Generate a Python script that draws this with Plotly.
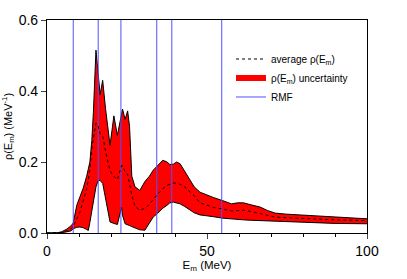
import plotly.graph_objects as go

# missing energy grid (MeV)
energy = [0, 3, 4.5, 6, 7.5, 8.2, 9.3, 10.3, 11.3, 12.4, 12.9, 13.4, 14, 14.5, 15.3, 16, 16.6, 17.4,
          18.3, 19.7, 20.9, 22, 23.3, 23.6, 24.4, 25.2, 25.8, 26.5, 27.5, 29, 30.6, 32, 33.2, 34.5,
          36.2, 37.5, 38.4, 39.5, 40.5, 41.6, 43, 44.7, 46, 47.8, 49.9, 52, 54.6, 57.7, 59.5, 61.4,
          63.5, 66.6, 69, 71.3, 75, 82, 90, 100]

rho_upper = [0, 0, 0.003, 0.01, 0.02, 0.028, 0.078, 0.1, 0.126, 0.16, 0.18, 0.2, 0.26, 0.34, 0.515,
             0.45, 0.39, 0.43, 0.35, 0.247, 0.33, 0.275, 0.34, 0.349, 0.32, 0.344, 0.30, 0.16, 0.13,
             0.12, 0.145, 0.16, 0.177, 0.19, 0.205, 0.2, 0.193, 0.194, 0.2, 0.195, 0.175, 0.148, 0.13,
             0.115, 0.107, 0.1, 0.092, 0.082, 0.085, 0.085, 0.08, 0.073, 0.063, 0.056, 0.053, 0.049,
             0.045, 0.040]

rho_mean = [0, 0, 0.002, 0.006, 0.012, 0.018, 0.04, 0.059, 0.09, 0.125, 0.15, 0.18, 0.238, 0.27, 0.31,
            0.3, 0.28, 0.275, 0.23, 0.175, 0.16, 0.15, 0.19, 0.19, 0.172, 0.165, 0.14, 0.106, 0.075,
            0.064, 0.07, 0.08, 0.095, 0.108, 0.125, 0.134, 0.138, 0.141, 0.14, 0.137, 0.13, 0.117,
            0.105, 0.085, 0.078, 0.072, 0.068, 0.062, 0.063, 0.064, 0.061, 0.055, 0.05, 0.045, 0.043,
            0.040, 0.037, 0.035]

rho_lower = [0, 0, 0.001, 0.003, 0.006, 0.012, 0.016, 0.017, 0.015, 0.01, 0.007, 0.03, 0.064, 0.09,
             0.13, 0.148, 0.148, 0.14, 0.1, 0.031, 0.027, 0.024, 0.073, 0.05, 0.026, 0.024, 0.021,
             0.018, 0.014, 0.009, 0.008, 0.028, 0.045, 0.055, 0.07, 0.078, 0.085, 0.087, 0.085, 0.082,
             0.075, 0.064, 0.057, 0.051, 0.049, 0.046, 0.042, 0.039, 0.038, 0.037, 0.036, 0.035,
             0.033, 0.032, 0.031, 0.029, 0.027, 0.026]

# RMF single-particle energies (MeV)
rmf_levels = [8.2, 16.0, 23.1, 34.3, 39.0, 54.6]

fig = go.Figure()

# uncertainty band, black edges
fig.add_trace(go.Scatter(x=energy, y=rho_lower, mode="lines", line=dict(color="black", width=1),
                         showlegend=False, hoverinfo="skip"))
fig.add_trace(go.Scatter(x=energy, y=rho_upper, mode="lines", fill="tonexty", fillcolor="#ff0000",
                         line=dict(color="black", width=1), showlegend=False))

rx, ry = [], []
for e in rmf_levels:
    rx += [e, e, None]
    ry += [0, 0.6, None]
fig.add_trace(go.Scatter(x=rx, y=ry, mode="lines", line=dict(color="rgb(80,80,255)", width=1),
                         name="RMF", legendrank=3))

fig.add_trace(go.Scatter(x=energy, y=rho_mean, mode="lines", line=dict(color="black", width=1, dash="dot"),
                         name="average ρ(E<sub>m</sub>)", legendrank=1))
fig.add_trace(go.Scatter(x=[None], y=[None], mode="none", fill="toself", fillcolor="#ff0000",
                         name="ρ(E<sub>m</sub>) uncertainty", legendrank=2))

fig.update_layout(
    width=407, height=279,
    margin=dict(l=47, r=40, t=20, b=46, autoexpand=False),
    paper_bgcolor="white", plot_bgcolor="white",
    font=dict(family="Liberation Sans, Arial, sans-serif", color="black", size=14),
    legend=dict(x=0.575, y=0.885, xanchor="left", yanchor="top", bgcolor="rgba(0,0,0,0)",
                font=dict(size=10), itemwidth=30, traceorder="normal"),
    xaxis=dict(range=[0, 100], tickvals=[0, 50, 100], ticks="outside", ticklen=5, tickwidth=1,
               showline=True, linecolor="black", linewidth=1.2, mirror=True, showgrid=False,
               zeroline=False, automargin=False,
               minor=dict(ticks="outside", dtick=10, ticklen=3, tickcolor="black"),
               title=dict(text="E<sub>m</sub> (MeV)", font=dict(size=11.5), standoff=1)),
    yaxis=dict(range=[0, 0.6], tickvals=[0, 0.2, 0.4, 0.6], tickformat=".1f", ticks="outside",
               ticklen=5, tickwidth=1, showline=True, linecolor="black", linewidth=1.2, mirror=True,
               showgrid=False, zeroline=False, automargin=False,
               title=dict(text="ρ(E<sub>m</sub>) (MeV<sup>-1</sup>)", font=dict(size=11), standoff=4)),
)

fig.write_html("out.html", config={"displayModeBar": False},
               post_script="document.body.style.margin='0';")
